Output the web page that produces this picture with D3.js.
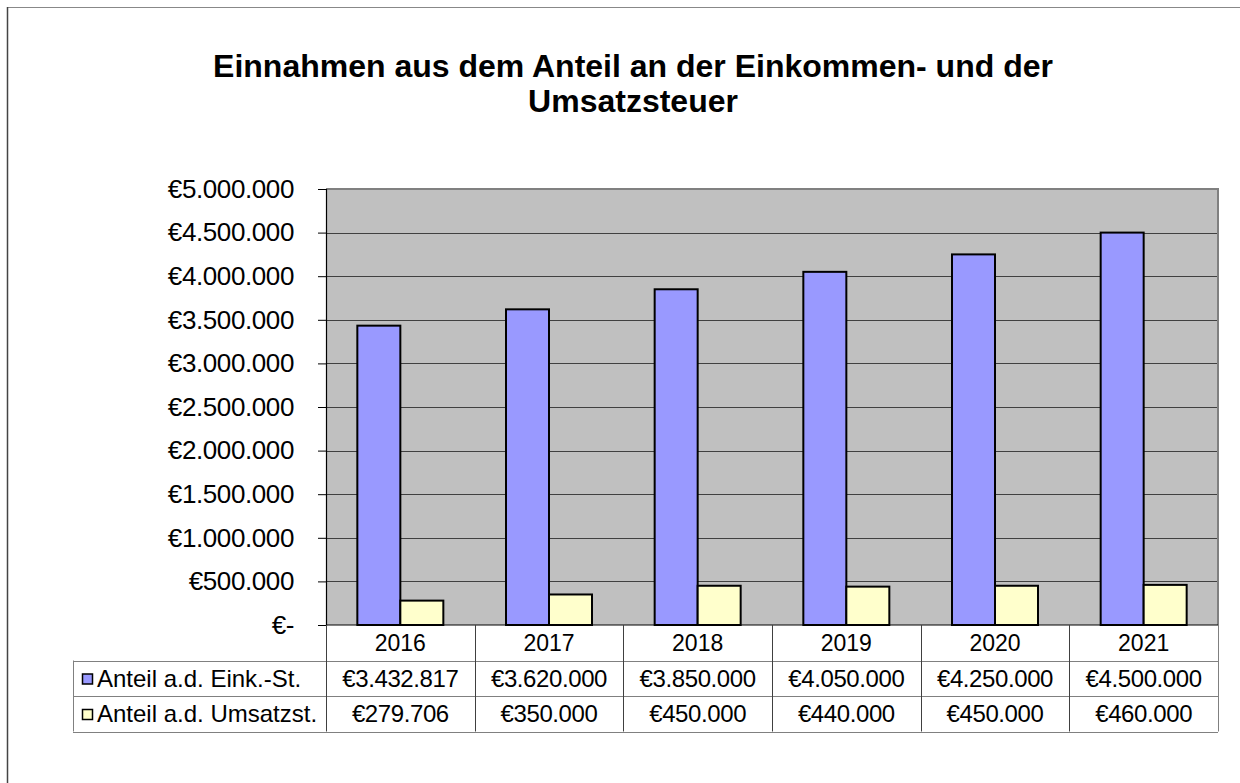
<!DOCTYPE html>
<html>
<head>
<meta charset="utf-8">
<script src="https://cdn.jsdelivr.net/npm/d3@7"></script>
<style>
  body { margin: 0; background: #fff; }
  text { font-family: "Liberation Sans", Arial, sans-serif; fill: #000; }
</style>
</head>
<body>
<div class="canvas"></div>
<script>
const years = ["2016", "2017", "2018", "2019", "2020", "2021"];
const seriesNames = ["Anteil a.d. Eink.-St.", "Anteil a.d. Umsatzst."];
const einkommen = [3432817, 3620000, 3850000, 4050000, 4250000, 4500000];
const umsatz = [279706, 350000, 450000, 440000, 450000, 460000];
const colors = ["#9999ff", "#ffffcc"];
const yTicks = [0, 500000, 1000000, 1500000, 2000000, 2500000, 3000000, 3500000, 4000000, 4500000, 5000000];

const width = 1240;
const height = 783;

const plotLeft = 326;
const plotRight = 1218;
const plotTop = 189;
const plotBottom = 625;
const rowH = 35.5;
const tableLeft = 73;

const de = d3.formatLocale({decimal: ",", thousands: ".", grouping: [3], currency: ["€", ""]});
const money = de.format("$,.0f");
const euro = d => d === 0 ? "€-" : money(d);

const svg = d3.select(".canvas").append("svg")
  .attr("width", width)
  .attr("height", height);

// outer frame (only top and left visible)
svg.append("line").attr("x1", 7.5).attr("x2", width).attr("y1", 7.5).attr("y2", 7.5)
  .attr("stroke", "#888").attr("stroke-width", 1);
svg.append("line").attr("x1", 7.5).attr("x2", 7.5).attr("y1", 7).attr("y2", height)
  .attr("stroke", "#444").attr("stroke-width", 1.5);

// title
const title = svg.append("text")
  .attr("text-anchor", "middle")
  .style("font-size", "32px")
  .style("font-weight", "bold");
title.append("tspan").attr("x", 633).attr("y", 77).text("Einnahmen aus dem Anteil an der Einkommen- und der");
title.append("tspan").attr("x", 633).attr("y", 112).text("Umsatzsteuer");

const x = d3.scaleBand().domain(years).range([plotLeft, plotRight]);
const xs = d3.scaleBand().domain([0, 1]).range([0, 86]);
const y = d3.scaleLinear().domain([0, 5000000]).range([plotBottom, plotTop]);

// plot area
svg.append("rect")
  .attr("x", plotLeft).attr("y", plotTop)
  .attr("width", plotRight - plotLeft).attr("height", plotBottom - plotTop)
  .attr("fill", "#c0c0c0");

// gridlines
svg.append("g").selectAll("line")
  .data(yTicks.slice(1))
  .join("line")
  .attr("x1", plotLeft).attr("x2", plotRight)
  .attr("y1", d => Math.round(y(d)) + 0.5)
  .attr("y2", d => Math.round(y(d)) + 0.5)
  .attr("stroke", "#404040").attr("stroke-width", 1);

// plot border top/right
svg.append("polyline")
  .attr("points", `${plotLeft},${plotTop} ${plotRight},${plotTop} ${plotRight},${plotBottom}`)
  .attr("fill", "none").attr("stroke", "#808080").attr("stroke-width", 2);

// bars
const groups = svg.append("g").selectAll("g")
  .data(years)
  .join("g")
  .attr("transform", d => `translate(${x(d) + (x.bandwidth() - 86) / 2},0)`);

groups.selectAll("rect")
  .data((d, i) => [einkommen[i], umsatz[i]])
  .join("rect")
  .attr("x", (d, j) => xs(j))
  .attr("y", d => y(d))
  .attr("width", xs.bandwidth())
  .attr("height", d => plotBottom - y(d))
  .attr("fill", (d, j) => colors[j])
  .attr("stroke", "#000")
  .attr("stroke-width", 2);

// y axis
const yAxis = svg.append("g")
  .attr("transform", `translate(${plotLeft},0)`)
  .call(d3.axisLeft(y).tickValues(yTicks).tickSize(8).tickPadding(24).tickFormat(euro));
yAxis.select(".domain").attr("stroke", "#000").attr("stroke-width", 1.2);
yAxis.selectAll(".tick line").attr("stroke", "#000");
yAxis.selectAll(".tick text")
  .style("font-size", "26px")
  .style("font-family", "'Liberation Sans', Arial, sans-serif")
  .attr("fill", "#000")
  .attr("letter-spacing", "-0.4px");

// data table
const table = svg.append("g");
const rows = [plotBottom, plotBottom + rowH, plotBottom + rowH * 2, plotBottom + rowH * 3];

table.append("line").attr("x1", plotLeft).attr("x2", plotRight).attr("y1", plotBottom).attr("y2", plotBottom)
  .attr("stroke", "#000").attr("stroke-width", 1.2);
[rows[1], rows[2], rows[3]].forEach(r => {
  table.append("line").attr("x1", tableLeft).attr("x2", plotRight)
    .attr("y1", Math.round(r) + 0.5).attr("y2", Math.round(r) + 0.5)
    .attr("stroke", "#808080").attr("stroke-width", 1);
});
table.append("line").attr("x1", tableLeft + 0.5).attr("x2", tableLeft + 0.5)
  .attr("y1", rows[1]).attr("y2", rows[3]).attr("stroke", "#808080");
table.append("line").attr("x1", plotLeft + 0.5).attr("x2", plotLeft + 0.5)
  .attr("y1", plotBottom).attr("y2", rows[3]).attr("stroke", "#404040");
table.append("line").attr("x1", plotRight + 0.5).attr("x2", plotRight + 0.5)
  .attr("y1", plotBottom).attr("y2", rows[3]).attr("stroke", "#808080");

table.selectAll(".sep")
  .data(years.slice(1))
  .join("line")
  .attr("x1", d => Math.round(x(d)) + 0.5).attr("x2", d => Math.round(x(d)) + 0.5)
  .attr("y1", plotBottom).attr("y2", rows[3])
  .attr("stroke", "#404040");

// header years
table.selectAll(".yr")
  .data(years)
  .join("text")
  .attr("x", d => x(d) + x.bandwidth() / 2)
  .attr("y", plotBottom + 26)
  .attr("text-anchor", "middle")
  .style("font-size", "23px")
  .text(d => d);

// series rows
[einkommen, umsatz].forEach((vals, k) => {
  const rowY = rows[k + 1];
  table.append("rect")
    .attr("x", 82.5).attr("y", rowY + 13.5)
    .attr("width", 10).attr("height", 10)
    .attr("fill", colors[k]).attr("stroke", "#000").attr("stroke-width", 1.5);
  table.append("text")
    .attr("x", 97).attr("y", rowY + 26)
    .style("font-size", "24px")
    .text(seriesNames[k]);
  table.selectAll(".v" + k)
    .data(vals)
    .join("text")
    .attr("x", (d, i) => x(years[i]) + x.bandwidth() / 2)
    .attr("y", rowY + 26)
    .attr("text-anchor", "middle")
    .attr("letter-spacing", "-0.4px")
    .style("font-size", "24px")
    .text(euro);
});
</script>
</body>
</html>
